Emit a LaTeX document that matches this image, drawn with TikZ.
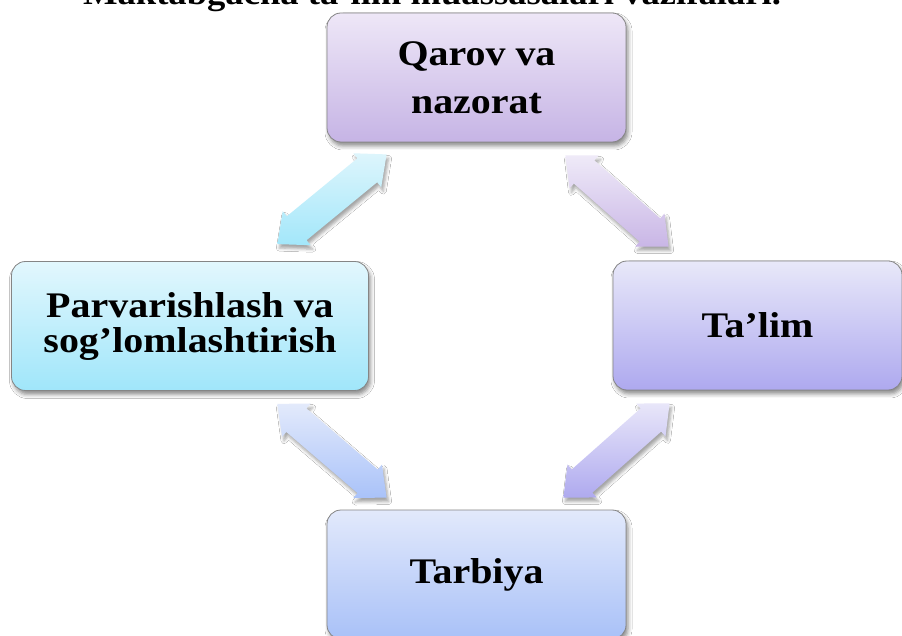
\documentclass[tikz,border=0pt]{standalone}
\usepackage{fontspec}
\newfontfamily\boxfont{Liberation Serif}[FakeStretch=1.11]
\usetikzlibrary{calc,shadows.blur}
\definecolor{boxline}{HTML}{858585}
\definecolor{qtop}{HTML}{EEE7F7}\definecolor{qbot}{HTML}{C6B4E5}
\definecolor{ltop}{HTML}{E2F7FD}\definecolor{lbot}{HTML}{A0E6FA}
\definecolor{rtop}{HTML}{E8E8F9}\definecolor{rbot}{HTML}{AEA9EF}
\definecolor{btop}{HTML}{E2E9FB}\definecolor{bbot}{HTML}{A9C1F8}
\definecolor{atlt}{HTML}{DDF5FC}\definecolor{atlb}{HTML}{A3E7FA}
\definecolor{atrt}{HTML}{EFEAF8}\definecolor{atrb}{HTML}{C9B6E6}
\definecolor{ablt}{HTML}{E3EAFB}\definecolor{ablb}{HTML}{A9C2F9}
\definecolor{abrt}{HTML}{E8E6F9}\definecolor{abrb}{HTML}{AFAAEF}
\newcommand\arhl{25pt}
\newcommand\arhw{22pt}
\newcommand\arsw{15.5pt}
\newcommand\blockarrow[4]{%
  \path[arrowsh, top color=#3, bottom color=#4]
    (#1)
    -- ($(#1)!\arhl!(#2)!\arhw!90:(#2)$)
    -- ($(#1)!\arhl!(#2)!\arsw!90:(#2)$)
    -- ($(#2)!\arhl!(#1)!\arsw!-90:(#1)$)
    -- ($(#2)!\arhl!(#1)!\arhw!-90:(#1)$)
    -- (#2)
    -- ($(#2)!\arhl!(#1)!\arhw!90:(#1)$)
    -- ($(#2)!\arhl!(#1)!\arsw!90:(#1)$)
    -- ($(#1)!\arhl!(#2)!\arsw!-90:(#2)$)
    -- ($(#1)!\arhl!(#2)!\arhw!-90:(#2)$)
    -- cycle;}
\tikzset{
  box/.style={rounded corners=14pt, draw=boxline, line width=0.8pt,
    minimum height=129pt, align=center, inner sep=0pt, text=black,
    font=\boxfont\bfseries\fontsize{36}{35}\selectfont,
    blur shadow={shadow xshift=2pt, shadow yshift=-4pt, shadow opacity=45, shadow blur radius=4pt}},
  arrowsh/.style={blur shadow={shadow xshift=2pt, shadow yshift=-4pt, shadow opacity=35, shadow blur radius=3pt}},
  titlefont/.style={font=\boxfont\bfseries\fontsize{33}{35}\selectfont}
}
\begin{document}
\begin{tikzpicture}[x=1pt,y=1pt]
\useasboundingbox (0,0) rectangle (902,635);
\fill[white] (0,0) rectangle (902,635);
\clip (0,0) rectangle (902,635);
\node[titlefont, anchor=base] (title) at (432,630.5) {Maktabgacha ta’lim muassasalari vazifalari.};
\node[box, minimum width=299pt, top color=qtop, bottom color=qbot,
  font=\boxfont\bfseries\fontsize{36}{48}\selectfont] (Q) at (476.5,557.5) {Qarov va\\nazorat};
\node[box, minimum width=357pt, top color=ltop, bottom color=lbot] (L) at (190,309) {Parvarishlash va\\sog’lomlashtirish};
\node[box, minimum width=289pt, top color=rtop, bottom color=rbot] (R) at (757.5,309.5) {Ta’lim};
\node[box, minimum width=299pt, top color=btop, bottom color=bbot] (B) at (476.5,60.5) {\raisebox{-3pt}{Tarbiya}};
\coordinate (tla) at ($(Q.south west)+(60,-12)$);
\coordinate (tlb) at ($(L.north east)+(-91.5,17)$);
\coordinate (tra) at ($(Q.south east)+(-61,-13)$);
\coordinate (trb) at ($(R.north west)+(56,14)$);
\coordinate (bla) at ($(L.south east)+(-91.5,-13)$);
\coordinate (blb) at ($(B.north west)+(60,12)$);
\coordinate (bra) at ($(R.south west)+(57,-13)$);
\coordinate (brb) at ($(B.north east)+(-63,12)$);
\blockarrow{tla}{tlb}{atlt}{atlb}
\blockarrow{tra}{trb}{atrt}{atrb}
\blockarrow{bla}{blb}{ablt}{ablb}
\blockarrow{bra}{brb}{abrt}{abrb}
\end{tikzpicture}
\end{document}
